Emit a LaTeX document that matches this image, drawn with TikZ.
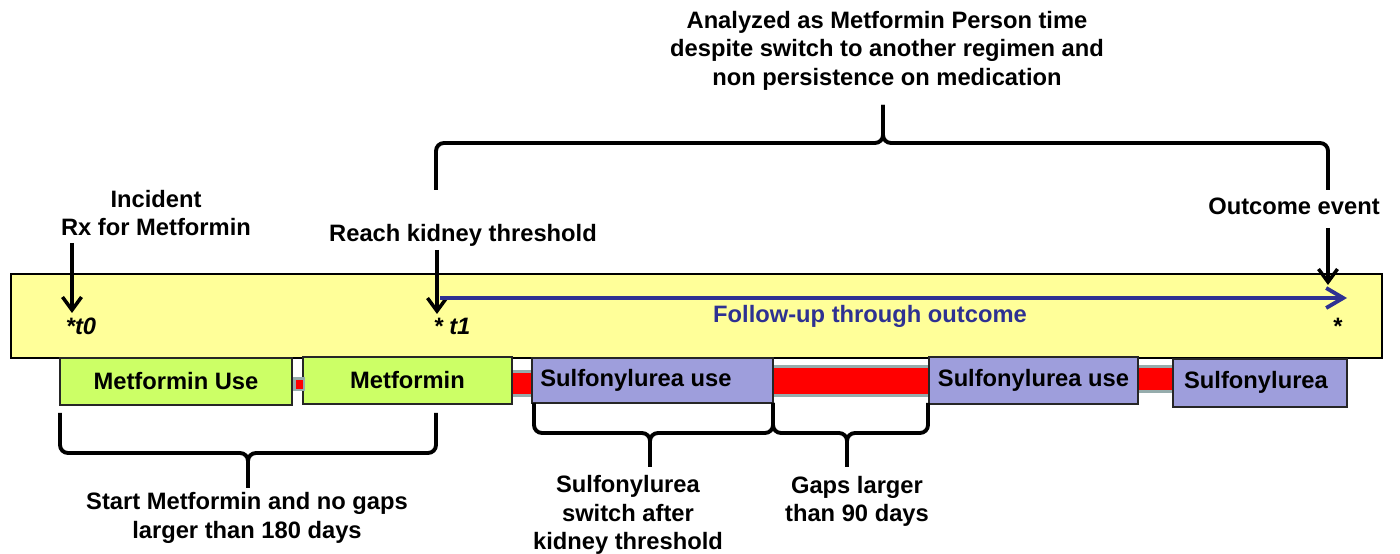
\documentclass[tikz,border=0pt]{standalone}
\usepackage{fontspec}
\setmainfont{Liberation Sans}
\usetikzlibrary{arrows.meta}
\tikzset{
  label-text/.style={
    font=\bfseries\fontsize{13.5}{16.2}\selectfont,
    inner sep=0pt,
    align=center
  },
  band-box/.style={draw=black, line width=0.8pt, fill=bandyellow, inner sep=0pt},
  rx-box/.style={draw=black!85, line width=0.9pt, inner sep=0pt},
  met-box/.style={rx-box, fill=metgreen},
  sul-box/.style={rx-box, fill=sulviolet},
  gap-bar/.style={draw=gapgrey, line width=1.5pt, fill=red},
  mark-arrow/.style={
    line width=2pt,
    -{Straight Barb[length=2.6mm, width=3.8mm]}
  },
  follow-arrow/.style={
    draw=fupblue, line width=2.2pt,
    -{Straight Barb[length=3.4mm, width=4mm]}
  },
  brace-line/.style={line width=2.2pt, rounded corners=4.5pt}
}
\definecolor{bandyellow}{RGB}{255,255,153}
\definecolor{metgreen}{RGB}{204,255,102}
\definecolor{sulviolet}{RGB}{158,158,220}
\definecolor{fupblue}{RGB}{46,49,146}
\definecolor{gapgrey}{RGB}{150,172,172}
\newcommand{\drawbrace}[6]{
  \draw[brace-line] (#1,#4) -- (#1,#5) -- (#3,#5) -- (#3,#6);
  \draw[brace-line] (#2,#4) -- (#2,#5) -- (#3,#5) -- (#3,#6);
}

\begin{document}
\begin{tikzpicture}[x=0.2mm, y=-0.2mm]
  \useasboundingbox (0,0) rectangle (1400,554);
  % Timeline band
  \node[band-box, minimum width=274.2mm, minimum height=16.8mm] (band) at (696.5,316) {};
  % Gaps in medication
  \draw[gap-bar] (508,371.5) rectangle (536,395.5);
  \draw[gap-bar] (770,366.5) rectangle (932,395.5);
  \draw[gap-bar] (1135,366.5) rectangle (1176,391.5);
  % Prescription fills
  \node[met-box, minimum width=46.4mm, minimum height=9.4mm] (met-use) at (176,381.5) {};
  \node[met-box, minimum width=41.8mm, minimum height=9.4mm] (met) at (407.5,380.5) {};
  \node[sul-box, minimum width=48.2mm, minimum height=9mm] (sul-use-a) at (652.5,380.5) {};
  \node[sul-box, minimum width=41.8mm, minimum height=9.4mm] (sul-use-b) at (1033.5,380.5) {};
  \node[sul-box, minimum width=34.8mm, minimum height=9.6mm] (sul) at (1260,383) {};
  \draw[gap-bar, line width=1.3pt] (294.5,378.5) rectangle (304,390);
  \node[label-text] (met-use-txt) at (met-use) {Metformin Use};
  \node[label-text] (met-txt) at (met) {Metformin};
  \node[label-text] (sul-use-a-txt) at (636,380) {Sulfonylurea use};
  \node[label-text] (sul-use-b-txt) at (sul-use-b) {Sulfonylurea use};
  \node[label-text] (sul-txt) at (1256,382) {Sulfonylurea};
  % Time points
  \node[label-text] (incident) at (156,213) {Incident\\Rx for Metformin};
  \node[label-text] (kidney) at (463,235) {Reach kidney threshold};
  \node[label-text] (outcome) at (1294,206) {Outcome event};
  \coordinate (t0-from) at (72,243);
  \coordinate (t0) at (72,313);
  \coordinate (t1-from) at (437,250);
  \coordinate (t1) at (437,314);
  \coordinate (ev-from) at (1328,228);
  \coordinate (ev) at (1328,285);
  \draw[mark-arrow] (t0-from) -- (t0);
  \draw[mark-arrow] (t1-from) -- (t1);
  \draw[mark-arrow] (ev-from) -- (ev);
  \node[label-text, anchor=base] (t0-lbl) at (81,335) {\itshape *t0};
  \node[label-text, anchor=base] (t1-lbl) at (452,335) {\itshape * t1};
  \node[label-text, anchor=base] (ev-lbl) at (1338,335) {*};
  % Follow-up
  \coordinate (fu-start) at (440,298);
  \coordinate (fu-end) at (1347,298);
  \draw[follow-arrow] (fu-start) -- (fu-end);
  \node[label-text, text=fupblue] (follow) at (870,316) {Follow-up through outcome};
  % Braces
  \drawbrace{436}{1328}{883}{190}{143}{105}
  \drawbrace{60}{436}{248}{413}{453}{488}
  \drawbrace{534}{773}{650}{403}{433}{467}
  \drawbrace{773}{928}{847}{403}{433}{467}
  \node[label-text] (analyzed) at (887,50.5) {Analyzed as Metformin Person time\\despite switch to another regimen and\\non persistence on medication};
  \node[label-text] (start) at (247,518) {Start Metformin and no gaps\\larger than 180 days};
  \node[label-text] (switch) at (628,515) {Sulfonylurea\\switch after\\kidney threshold};
  \node[label-text] (gaps) at (857,501.5) {Gaps larger\\than 90 days};
\end{tikzpicture}
\end{document}
